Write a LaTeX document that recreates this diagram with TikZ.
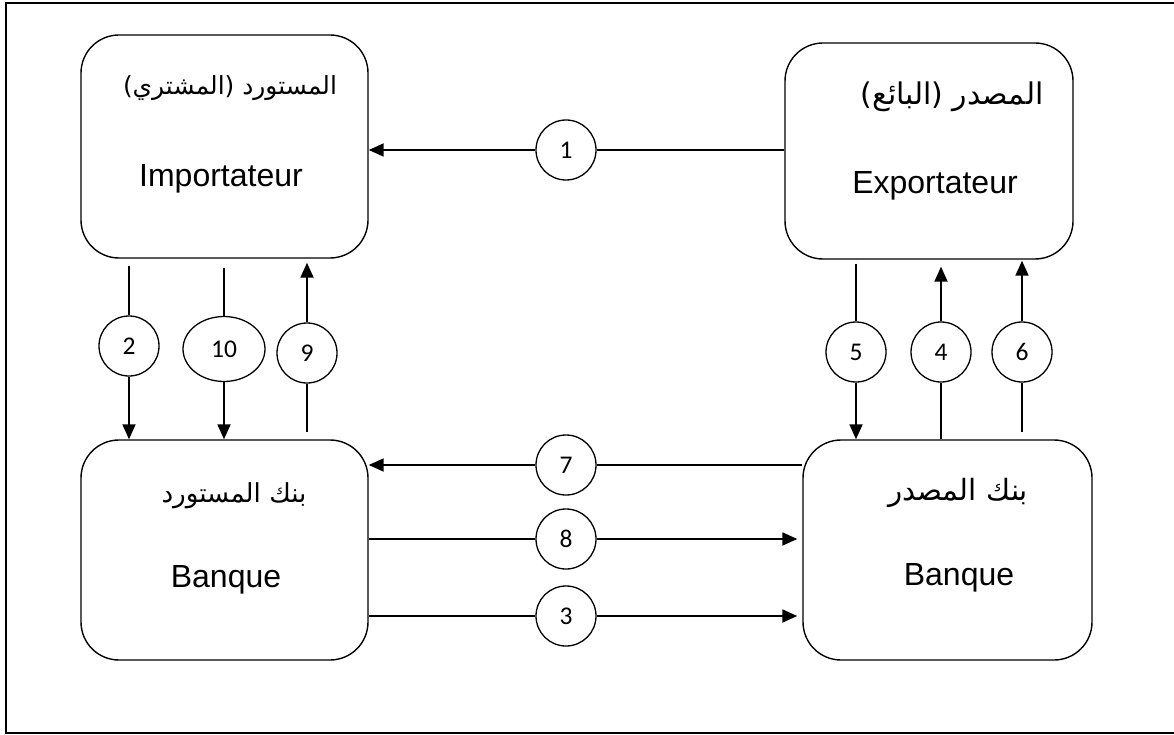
\documentclass[tikz,border=0pt]{standalone}
\usepackage{graphicx}
\usepackage{fontspec}
\setmainfont{Liberation Sans}
\newfontfamily\arabicfont[Script=Arabic]{DejaVu Sans}
\newfontfamily\numfont{Carlito}
\TeXXeTstate=1
\usetikzlibrary{arrows.meta,shapes.geometric,calc}

% Arabic caption scaled to a given width
\newcommand{\arabline}[2]{\resizebox{#1}{!}{\arabicfont\fontsize{25}{30}\selectfont #2}}

\begin{document}
\begin{tikzpicture}[x=1pt,y=-1pt,
  party/.style={draw,line width=1.4pt,rounded corners=38pt,inner sep=0pt},
  num/.style={draw,circle,line width=1.3pt,minimum size=60pt,inner sep=0pt,
              font=\numfont\fontsize{25.5}{30}\selectfont},
  plain/.style={line width=1.8pt},
  flow/.style={line width=1.8pt,-{Triangle[length=15pt,width=13pt]}},
  latin/.style={anchor=base,inner sep=0pt,font=\fontsize{32}{38}\selectfont},
  arab/.style={anchor=base,inner sep=0pt}]

\useasboundingbox (0,0) rectangle (1174,735);

% outer frame (its right side lies beyond the page edge)
\draw[line width=2pt] (1180,3.5) -- (6,3.5) -- (6,733) -- (1180,733);

% the four parties
\node[party,minimum width=287pt,minimum height=223pt] (imp) at (224.5,146.5) {};
\node[party,minimum width=288pt,minimum height=216pt] (exp) at (929,151) {};
\node[party,minimum width=287pt,minimum height=220pt] (ib)  at (224.5,550) {};
\node[party,minimum width=289pt,minimum height=220pt] (eb)  at (947.5,550) {};

\node[arab]  (impar) at (230,95)  {\arabline{214pt}{\beginR المستورد  (المشتري)\endR}};
\node[latin] (impfr) at (221,187) {Importateur};
\node[arab]  (expar) at (952,105) {\arabline{183pt}{\beginR المصدر  (البائع)\endR}};
\node[latin] (expfr) at (935,194) {Exportateur};
\node[arab]  (ibar)  at (234,502) {\arabline{145pt}{\beginR بنك المستورد\endR}};
\node[latin] (ibfr)  at (226,587) {Banque};
\node[arab]  (ebar)  at (958,500) {\arabline{140pt}{\beginR بنك المصدر\endR}};
\node[latin] (ebfr)  at (959,585) {Banque};

% numbered steps
\node[num] (n1) at (566,150) {1};
\node[num] (n7) at (566,465) {7};
\node[num] (n8) at (566,539) {8};
\node[num] (n3) at (566,616) {3};
\node[num] (n2) at (129,346) {2};
\node[num,ellipse,minimum width=82pt,minimum height=65pt] (n10) at (224,349) {10};
\node[num] (n9) at (307,353) {9};
\node[num] (n5) at (856,352) {5};
\node[num] (n4) at (941,352) {4};
\node[num] (n6) at (1022,352) {6};

% 1: exporter -> importer
\draw[plain] (exp.west |- n1) -- (n1);
\draw[flow]  (n1) -- (imp.east |- n1);

% 2, 10: importer -> importer's bank ; 9: bank -> importer
\draw[plain] ($(imp.south -| n2)+(0,7)$) -- (n2);
\draw[flow]  (n2) -- (ib.north -| n2);
\draw[plain] ($(imp.south -| n10)+(0,9)$) -- (n10);
\draw[flow]  (n10) -- (ib.north -| n10);
\draw[plain] ($(ib.north -| n9)+(0,-7)$) -- (n9);
\draw[flow]  (n9) -- ($(imp.south -| n9)+(0,4)$);

% 5: exporter -> exporter's bank ; 4, 6: bank -> exporter
\draw[plain] ($(exp.south -| n5)+(0,4)$) -- (n5);
\draw[flow]  (n5) -- (eb.north -| n5);
\draw[plain] (eb.north -| n4) -- (n4);
\draw[flow]  (n4) -- ($(exp.south -| n4)+(0,7)$);
\draw[plain] ($(eb.north -| n6)+(0,-7)$) -- (n6);
\draw[flow]  (n6) -- ($(exp.south -| n6)+(0,1)$);

% 7: exporter's bank -> importer's bank ; 8, 3: the other way
\draw[plain] (eb.west |- n7) -- (n7);
\draw[flow]  (n7) -- (ib.east |- n7);
\draw[plain] (ib.east |- n8) -- (n8);
\draw[flow]  (n8) -- ($(eb.west |- n8)+(-5,0)$);
\draw[plain] (ib.east |- n3) -- (n3);
\draw[flow]  (n3) -- ($(eb.west |- n3)+(-5,0)$);

\end{tikzpicture}
\end{document}
